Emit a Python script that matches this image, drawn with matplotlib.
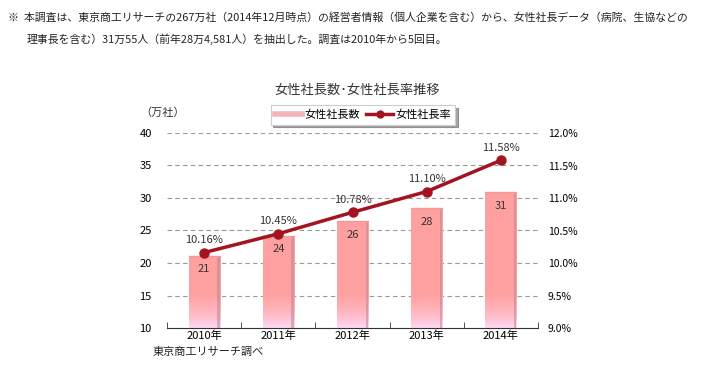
import numpy as np
import matplotlib.pyplot as plt
from matplotlib.lines import Line2D
from matplotlib.colors import LinearSegmentedColormap

plt.rcParams['font.family'] = ['Noto Sans CJK JP', 'DejaVu Sans']

years = ["2010年", "2011年", "2012年", "2013年", "2014年"]
counts = [21.1, 24.2, 26.4, 28.4, 30.9]       # 万社
count_labels = ["21", "24", "26", "28", "31"]
rates = [10.16, 10.45, 10.78, 11.10, 11.58]   # %
rate_labels = ["10.16%", "10.45%", "10.78%", "11.10%", "11.58%"]
left_ticks = [10, 15, 20, 25, 30, 35, 40]
right_ticks = [9.0, 9.5, 10.0, 10.5, 11.0, 11.5, 12.0]

note1 = "※  本調査は、東京商工リサーチの267万社（2014年12月時点）の経営者情報（個人企業を含む）から、女性社長データ（病院、生協などの"
note2 = "理事長を含む）31万55人（前年28万4,581人）を抽出した。調査は2010年から5回目。"

fig = plt.figure(figsize=(7.06, 3.77), dpi=100)
fig.text(8/706, 1-18/377, note1, fontsize=7.85, va='center', color='#222222')
fig.text(27/706, 1-39/377, note2, fontsize=7.85, va='center', color='#222222')

ax = fig.add_axes([167/706, 1-328/377, 371/706, 195/377])
x = np.arange(len(years))

for t in left_ticks[1:]:
    ax.axhline(t, color='#999999', lw=0.8, ls=(0, (4, 3)), zorder=0)

bars = ax.bar(x, counts, width=0.42, bottom=0, color='#ffa0a0', zorder=2)
# pale pink-lavender fade at the foot of each bar
cmap = LinearSegmentedColormap.from_list('bar', [(0, '#ffd8f6'), (0.06, '#ffbcc8'), (0.17, '#ffa0a0'), (1, '#ffa0a0')])
grad = np.linspace(0, 1, 256).reshape(-1, 1)
for b in bars:
    bx, bw, bh = b.get_x(), b.get_width(), b.get_height()
    im = ax.imshow(grad, cmap=cmap, origin='lower', aspect='auto',
                   extent=(bx, bx+bw, 10, 40), zorder=2)
    im.set_clip_path(b)
    ax.fill_between([bx+bw*0.92, bx+bw], 10, bh, color='#b88898', alpha=0.55, lw=0, zorder=3)
    ax.plot([bx, bx+bw], [bh, bh], color='#f09a9a', lw=1.0, zorder=3)
ax.set_xlim(-0.5, len(years)-0.5)
ax.set_ylim(10, 40)

for xi, v, lab in zip(x, counts, count_labels):
    ax.text(xi, v-1.3, lab, ha='center', va='top', fontsize=8, color='#333333', zorder=5)

ax.set_xticks(x)
ax.set_xticklabels(years, fontsize=8)
ax.set_xticks(np.arange(-0.5, len(years)), minor=True)
ax.tick_params(axis='x', which='major', length=0, pad=2)
ax.tick_params(axis='x', which='minor', length=4, direction='in', color='#333333')
ax.set_yticks(left_ticks)
ax.set_yticklabels([str(t) for t in left_ticks], fontsize=8)
ax.tick_params(axis='y', length=0, pad=11)
for s in ['top', 'right', 'left']:
    ax.spines[s].set_visible(False)
ax.spines['bottom'].set_color('#333333')

ax2 = ax.twinx()
ax2.set_ylim(9.0, 12.0)
ax2.plot(x, rates, color='#a31420', lw=2.5, marker='o', markersize=6.5, zorder=6)
for xi, r, lab in zip(x, rates, rate_labels):
    ax2.text(xi, r+0.12, lab, ha='center', va='bottom', fontsize=8, color='#333333')
ax2.set_yticks(right_ticks)
ax2.set_yticklabels(["%.1f%%" % t for t in right_ticks], fontsize=7.5)
ax2.tick_params(axis='y', length=0, pad=7)
for s in ['top', 'right', 'left', 'bottom']:
    ax2.spines[s].set_visible(False)

fig.text(357/706, 1-90/377, "女性社長数･女性社長率推移", ha='center', va='center', fontsize=9.5, color='#333333')
fig.text(140/706, 1-113/377, "（万社）", ha='left', va='center', fontsize=8, color='#333333')
fig.text(153/706, 1-352/377, "東京商工リサーチ調べ", ha='left', va='center', fontsize=8, color='#222222')

handles = [Line2D([0], [0], color='#f4b4bc', lw=4),
           Line2D([0], [0], color='#a31420', lw=2.5, marker='o', markersize=5)]
leg = fig.legend(handles, ["女性社長数", "女性社長率"], loc='center',
                 bbox_to_anchor=(363/706, 1-115/377), ncol=2, fontsize=8,
                 frameon=True, fancybox=False, shadow=True, handlelength=2.4,
                 handletextpad=0.2, columnspacing=0.6, borderpad=0.4)
leg.get_frame().set_edgecolor('#cccccc')
leg.get_frame().set_linewidth(0.8)

fig.savefig('out.png', dpi=100)
